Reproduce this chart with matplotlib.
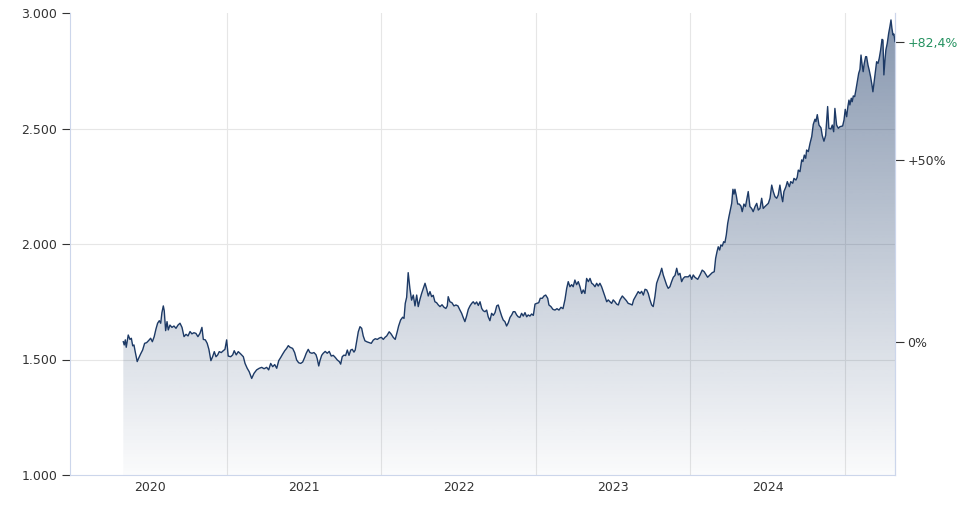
import numpy as np
import matplotlib
matplotlib.use("Agg")
import matplotlib.pyplot as plt
from matplotlib.ticker import FuncFormatter
from matplotlib.patches import Polygon

# ---- data: dates as decimal years, gold price (EUR) ----
t2020 = [2020.329, 2020.335, 2020.342, 2020.348, 2020.361, 2020.372, 2020.381, 2020.390, 2020.398, 2020.406,
         2020.419, 2020.428, 2020.441, 2020.454, 2020.467, 2020.480, 2020.493, 2020.506, 2020.517, 2020.529,
         2020.540, 2020.551, 2020.562, 2020.571, 2020.579, 2020.588, 2020.594, 2020.603, 2020.612, 2020.620,
         2020.631, 2020.644, 2020.657, 2020.670, 2020.683, 2020.696, 2020.709, 2020.722, 2020.735, 2020.748,
         2020.761, 2020.773, 2020.786, 2020.799, 2020.812, 2020.825, 2020.838, 2020.847, 2020.860, 2020.872,
         2020.883, 2020.896, 2020.907, 2020.918, 2020.929, 2020.940, 2020.950, 2020.963, 2020.976, 2020.987,
         2020.998]
p2020 = [1577, 1563, 1585, 1553, 1606, 1587, 1592, 1559, 1563, 1534,
         1491, 1505, 1524, 1541, 1570, 1573, 1582, 1592, 1577, 1599,
         1631, 1657, 1668, 1657, 1703, 1732, 1711, 1625, 1664, 1628,
         1649, 1639, 1645, 1635, 1649, 1657, 1639, 1599, 1609, 1602,
         1621, 1611, 1616, 1613, 1599, 1613, 1639, 1587, 1585, 1570,
         1544, 1495, 1512, 1534, 1512, 1520, 1534, 1530, 1538, 1544,
         1585]

t2021 = [2021.008, 2021.024, 2021.037, 2021.047, 2021.060, 2021.073, 2021.089, 2021.106, 2021.117, 2021.131,
         2021.144, 2021.160, 2021.175, 2021.192, 2021.209, 2021.225, 2021.240, 2021.257, 2021.270, 2021.283,
         2021.296, 2021.309, 2021.322, 2021.335, 2021.348, 2021.361, 2021.374, 2021.386, 2021.397, 2021.408,
         2021.425, 2021.438, 2021.451, 2021.464, 2021.477, 2021.490, 2021.503, 2021.513, 2021.526, 2021.537,
         2021.550, 2021.563, 2021.576, 2021.584, 2021.594, 2021.602, 2021.613, 2021.623, 2021.636, 2021.649,
         2021.662, 2021.675, 2021.688, 2021.701, 2021.714, 2021.727, 2021.736, 2021.746, 2021.757, 2021.768,
         2021.779, 2021.790, 2021.801, 2021.811, 2021.822, 2021.830, 2021.839, 2021.850, 2021.861, 2021.872,
         2021.882, 2021.893, 2021.908, 2021.921, 2021.934, 2021.947, 2021.960, 2021.973, 2021.986, 2021.999]
p2021 = [1515, 1512, 1520, 1538, 1520, 1534, 1524, 1512, 1483, 1462,
         1447, 1418, 1440, 1455, 1462, 1466, 1460, 1466, 1455, 1483,
         1469, 1478, 1462, 1495, 1509, 1524, 1538, 1548, 1560, 1553,
         1548, 1530, 1498, 1486, 1483, 1489, 1509, 1527, 1544, 1530,
         1527, 1530, 1521, 1504, 1472, 1495, 1518, 1527, 1535, 1527,
         1535, 1515, 1518, 1509, 1498, 1491, 1480, 1512, 1519, 1517,
         1541, 1518, 1541, 1544, 1532, 1541, 1577, 1620, 1642, 1635,
         1602, 1581, 1576, 1573, 1570, 1584, 1590, 1587, 1593, 1596]

t2022 = [2022.012, 2022.023, 2022.034, 2022.050, 2022.063, 2022.076, 2022.089, 2022.102, 2022.111, 2022.124,
         2022.137, 2022.146, 2022.154, 2022.163, 2022.173, 2022.184, 2022.195, 2022.206, 2022.217, 2022.228,
         2022.238, 2022.249, 2022.260, 2022.271, 2022.282, 2022.293, 2022.303, 2022.314, 2022.325, 2022.335,
         2022.346, 2022.357, 2022.368, 2022.379, 2022.392, 2022.405, 2022.417, 2022.426, 2022.432, 2022.443,
         2022.456, 2022.469, 2022.482, 2022.495, 2022.508, 2022.519, 2022.529, 2022.540, 2022.551, 2022.562,
         2022.573, 2022.584, 2022.594, 2022.605, 2022.616, 2022.627, 2022.638, 2022.649, 2022.659, 2022.670,
         2022.681, 2022.691, 2022.702, 2022.713, 2022.724, 2022.735, 2022.746, 2022.756, 2022.767, 2022.778,
         2022.788, 2022.799, 2022.810, 2022.821, 2022.832, 2022.843, 2022.853, 2022.864, 2022.875, 2022.885,
         2022.896, 2022.907, 2022.918, 2022.929, 2022.940, 2022.950, 2022.961, 2022.972, 2022.983, 2022.994]
p2022 = [1587, 1596, 1602, 1620, 1610, 1596, 1587, 1620, 1645, 1671,
         1683, 1678, 1743, 1769, 1876, 1808, 1757, 1779, 1732, 1779,
         1729, 1760, 1786, 1808, 1830, 1804, 1775, 1794, 1772, 1778,
         1750, 1746, 1736, 1729, 1737, 1726, 1721, 1732, 1772, 1750,
         1746, 1732, 1736, 1732, 1714, 1700, 1682, 1664, 1688, 1717,
         1732, 1743, 1750, 1740, 1749, 1734, 1750, 1721, 1711, 1707,
         1714, 1685, 1668, 1700, 1691, 1703, 1732, 1736, 1711, 1688,
         1671, 1664, 1645, 1659, 1682, 1693, 1707, 1707, 1693, 1685,
         1682, 1700, 1688, 1703, 1685, 1693, 1688, 1697, 1691, 1740]

t2023 = [2023.005, 2023.018, 2023.028, 2023.041, 2023.052, 2023.063, 2023.076, 2023.084, 2023.097, 2023.110,
         2023.123, 2023.136, 2023.149, 2023.162, 2023.175, 2023.188, 2023.199, 2023.209, 2023.220, 2023.231,
         2023.241, 2023.252, 2023.263, 2023.274, 2023.285, 2023.296, 2023.306, 2023.317, 2023.328, 2023.339,
         2023.350, 2023.361, 2023.371, 2023.382, 2023.393, 2023.403, 2023.414, 2023.425, 2023.436, 2023.447,
         2023.458, 2023.468, 2023.479, 2023.490, 2023.500, 2023.511, 2023.522, 2023.533, 2023.544, 2023.559,
         2023.572, 2023.585, 2023.597, 2023.610, 2023.623, 2023.632, 2023.641, 2023.652, 2023.662, 2023.673,
         2023.684, 2023.695, 2023.706, 2023.717, 2023.727, 2023.738, 2023.749, 2023.759, 2023.770, 2023.781,
         2023.792, 2023.803, 2023.814, 2023.824, 2023.835, 2023.846, 2023.856, 2023.867, 2023.878, 2023.889,
         2023.900, 2023.911, 2023.921, 2023.932, 2023.943, 2023.953, 2023.964, 2023.986, 2023.997]
p2023 = [1743, 1746, 1765, 1765, 1775, 1779, 1765, 1736, 1729, 1717,
         1714, 1720, 1714, 1726, 1720, 1760, 1808, 1837, 1815, 1824,
         1815, 1844, 1824, 1837, 1815, 1786, 1801, 1786, 1851, 1837,
         1851, 1830, 1825, 1815, 1830, 1818, 1830, 1815, 1794, 1772,
         1750, 1758, 1750, 1743, 1758, 1750, 1740, 1736, 1758, 1775,
         1765, 1755, 1743, 1740, 1736, 1758, 1769, 1782, 1794, 1786,
         1795, 1779, 1804, 1801, 1786, 1758, 1736, 1729, 1772, 1830,
         1851, 1870, 1895, 1866, 1844, 1822, 1808, 1815, 1837, 1856,
         1864, 1895, 1866, 1873, 1837, 1851, 1858, 1858, 1866]

t2024 = [2024.008, 2024.018, 2024.029, 2024.047, 2024.062, 2024.076, 2024.089, 2024.098, 2024.111, 2024.126,
         2024.141, 2024.154, 2024.163, 2024.172, 2024.180, 2024.189, 2024.197, 2024.206, 2024.215, 2024.223,
         2024.232, 2024.241, 2024.249, 2024.258, 2024.267, 2024.275, 2024.282, 2024.288, 2024.296, 2024.306,
         2024.316, 2024.327, 2024.335, 2024.346, 2024.356, 2024.364, 2024.374, 2024.385, 2024.396, 2024.406,
         2024.418, 2024.429, 2024.439, 2024.450, 2024.461, 2024.471, 2024.482, 2024.493, 2024.504, 2024.515,
         2024.526, 2024.536, 2024.547, 2024.558, 2024.568, 2024.579, 2024.590, 2024.597, 2024.605, 2024.618,
         2024.627, 2024.640, 2024.649, 2024.662, 2024.670, 2024.683, 2024.691, 2024.698, 2024.709, 2024.720,
         2024.728, 2024.737, 2024.746, 2024.752, 2024.763, 2024.774, 2024.785, 2024.795, 2024.806, 2024.812,
         2024.821, 2024.832, 2024.845, 2024.853, 2024.864, 2024.875, 2024.888, 2024.896, 2024.909, 2024.918,
         2024.927, 2024.935, 2024.946, 2024.957, 2024.968, 2024.985, 2024.994]
p2024 = [1847, 1866, 1856, 1847, 1866, 1887, 1880, 1870, 1856, 1866,
         1876, 1880, 1938, 1967, 1988, 1974, 1996, 1991, 2010, 2006,
         2039, 2089, 2118, 2147, 2176, 2237, 2216, 2237, 2212, 2173,
         2173, 2164, 2140, 2173, 2162, 2190, 2227, 2162, 2154, 2140,
         2162, 2176, 2147, 2154, 2198, 2154, 2162, 2169, 2176, 2198,
         2255, 2227, 2205, 2198, 2212, 2255, 2205, 2183, 2227, 2248,
         2270, 2248, 2270, 2263, 2284, 2277, 2289, 2320, 2313, 2364,
         2357, 2385, 2371, 2407, 2400, 2436, 2465, 2518, 2540, 2530,
         2560, 2515, 2503, 2470, 2445, 2470, 2595, 2501, 2498, 2515,
         2486, 2587, 2515, 2501, 2508, 2511, 2537]

t2025 = [2025.002, 2025.011, 2025.019, 2025.026, 2025.032, 2025.041, 2025.047, 2025.054, 2025.063, 2025.071,
         2025.080, 2025.089, 2025.097, 2025.104, 2025.110, 2025.118, 2025.125, 2025.134, 2025.140, 2025.149,
         2025.157, 2025.166, 2025.175, 2025.181, 2025.188, 2025.196, 2025.205, 2025.214, 2025.222, 2025.231,
         2025.240, 2025.246, 2025.252, 2025.259, 2025.265, 2025.274, 2025.283, 2025.291, 2025.298, 2025.304,
         2025.311, 2025.317, 2025.324]
p2025 = [2583, 2551, 2595, 2623, 2602, 2631, 2616, 2641, 2638, 2667,
         2703, 2739, 2756, 2818, 2782, 2746, 2782, 2811, 2811, 2775,
         2753, 2724, 2688, 2659, 2696, 2739, 2789, 2782, 2804, 2840,
         2886, 2883, 2732, 2797, 2840, 2869, 2912, 2941, 2970, 2934,
         2905, 2909, 2876]

y_ticks = [1000, 1500, 2000, 2500, 3000]
year_labels = [2020, 2021, 2022, 2023, 2024]
grid_years = [2021, 2022, 2023, 2024, 2025]
pct_levels = [0, 50]

t_all = [t2020, t2021, t2022, t2023, t2024, t2025]
p_all = [p2020, p2021, p2022, p2023, p2024, p2025]
for tt, pp in zip(t_all, p_all):
    assert len(tt) == len(pp), (len(tt), len(pp))
dates = np.concatenate([np.array(t, float) for t in t_all])
prices = np.concatenate([np.array(p, float) for p in p_all])

# ---- figure ----
W, H = 975, 505
fig = plt.figure(figsize=(W / 100, H / 100), dpi=100)
ax = fig.add_axes([70 / W, 30 / H, 825 / W, 462 / H])
xmin, xmax = 2019.984, dates[-1]
ymin, ymax = 1000, 3000
ax.set_xlim(xmin, xmax)
ax.set_ylim(ymin, ymax)

grid_c = "#e6e6e6"
axis_c = "#ccd6eb"
text_c = "#333333"
navy = np.array([30, 60, 105]) / 255.0

for v in y_ticks[1:-1]:
    ax.axhline(v, color=grid_c, lw=0.8, zorder=0)
for g in grid_years:
    ax.axvline(g, color=grid_c, lw=0.8, zorder=0)

# gradient fill under the line
n = 300
grad = np.zeros((n, 1, 4))
grad[:, 0, :3] = navy
grad[:, 0, 3] = np.linspace(0.54, 0.02, n)
im = ax.imshow(grad, extent=[xmin, xmax, ymin, ymax], aspect="auto",
               origin="upper", zorder=1, interpolation="bilinear")
verts = np.vstack([[dates[0], ymin], np.column_stack([dates, prices]), [dates[-1], ymin]])
clip = Polygon(verts, closed=True, transform=ax.transData)
im.set_clip_path(clip)

ax.plot(dates, prices, color="#1d3a66", lw=1.0, zorder=3, solid_joinstyle="round")

# spines
for s in ["top"]:
    ax.spines[s].set_visible(False)
for s in ["left", "bottom", "right"]:
    ax.spines[s].set_color(axis_c)
    ax.spines[s].set_linewidth(0.8)

# y axis (left)
ax.set_yticks(y_ticks)
ax.yaxis.set_major_formatter(FuncFormatter(lambda v, _: f"{int(round(v)):,}".replace(",", ".")))
ax.tick_params(axis="y", length=5.8, width=0.8, color=text_c, pad=3.4,
               labelsize=9, labelcolor=text_c)

# x axis
ax.set_xticks([y + 0.5 for y in year_labels])
ax.set_xticklabels([str(y) for y in year_labels])
ax.tick_params(axis="x", length=0, pad=4, labelsize=9, labelcolor=text_c)

# right axis with percentage change
base = prices[0]
last = prices[-1]
ax2 = ax.twinx()
ax2.set_ylim(ymin, ymax)
r_ticks = [base * (1 + p / 100.0) for p in pct_levels] + [last]
r_labels = ["0%" if p == 0 else f"+{p}%" for p in pct_levels]
chg = (last / base - 1) * 100
r_labels.append(("+" if chg >= 0 else "") + f"{chg:.1f}".replace(".", ",") + "%")
ax2.set_yticks(r_ticks)
ax2.set_yticklabels(r_labels)
ax2.tick_params(axis="y", length=6.5, width=0.8, color=text_c, pad=2.5,
                labelsize=9, labelcolor=text_c)
ax2.get_yticklabels()[-1].set_color("#23915f")
for s in ["top", "left", "bottom"]:
    ax2.spines[s].set_visible(False)
ax2.spines["right"].set_color(axis_c)
ax2.spines["right"].set_linewidth(0.8)

fig.savefig("out.png", dpi=100)
